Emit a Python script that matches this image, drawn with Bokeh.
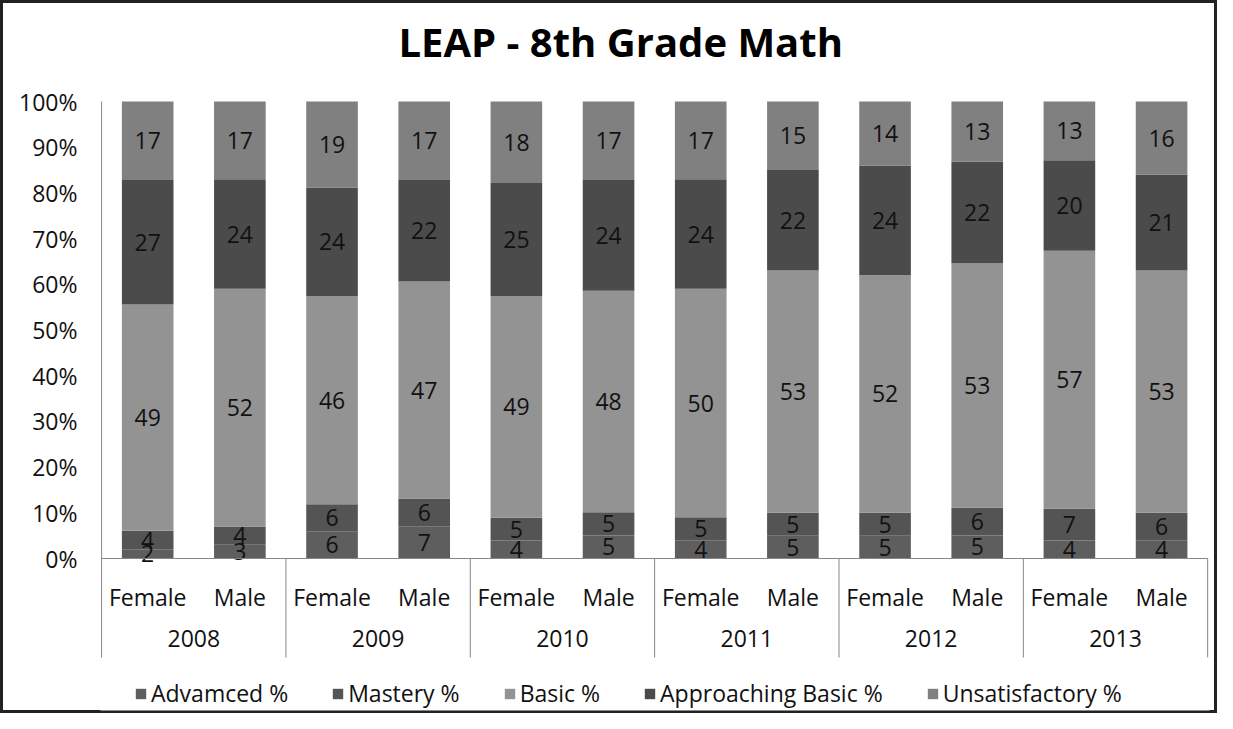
from bokeh.plotting import figure
from bokeh.models import (Range1d, FixedTicker, NumeralTickFormatter, ColumnDataSource,
                          Legend, LegendItem, Title, BoxAnnotation)
from bokeh.core.properties import value
from bokeh.embed import file_html
from bokeh.resources import INLINE

years = ["2008", "2009", "2010", "2011", "2012", "2013"]
genders = ["Female", "Male"]
series = ["Advamced %", "Mastery %", "Basic %", "Approaching Basic %", "Unsatisfactory %"]

advanced = [2, 3, 6, 7, 4, 5, 4, 5, 5, 5, 4, 4]
mastery = [4, 4, 6, 6, 5, 5, 5, 5, 5, 6, 7, 6]
basic = [49, 52, 46, 47, 49, 48, 50, 53, 52, 53, 57, 53]
approaching = [27, 24, 24, 22, 25, 24, 24, 22, 24, 22, 20, 21]
unsatisfactory = [17, 17, 19, 17, 18, 17, 17, 15, 14, 13, 13, 16]

colors = ["#5e5e5e", "#545454", "#939393", "#4b4b4b", "#808080"]
y_ticks = [0, 0.1, 0.2, 0.3, 0.4, 0.5, 0.6, 0.7, 0.8, 0.9, 1.0]

FONT = "Open Sans"
FS = "23px"
LINE = "#868686"
TXT = "#111111"

values = [advanced, mastery, basic, approaching, unsatisfactory]
keys = ["adv", "mas", "bas", "app", "uns"]
n = len(advanced)
totals = [sum(v[i] for v in values) for i in range(n)]
xs = [i + 0.5 for i in range(n)]

data = {"x": xs}
for k, v in zip(keys, values):
    data[k] = [v[i] / totals[i] for i in range(n)]
src = ColumnDataSource(data)

W, H = 1217, 713
TOP, LEFT, RIGHT, BOTTOM = 80, 100, 8, 3
PX = 457.0                                  # pixels per 100 %
sep_bottom = -99 / PX                       # bottom of category separators
y_end = 1.0 + 21 / PX                       # a little headroom above 100 %
frame_h = H - TOP - BOTTOM
frame_bottom = y_end - frame_h / PX         # frame extends down to hold the legend

p = figure(width=W, height=H, output_backend="svg", toolbar_location=None,
           x_range=Range1d(-0.012, 12.02), y_range=Range1d(frame_bottom, y_end),
           x_axis_type=None, min_border_left=LEFT, min_border_right=RIGHT,
           min_border_top=TOP, min_border_bottom=BOTTOM)
p.outline_line_color = None
p.grid.visible = False
p.border_fill_alpha = 0
p.styles = {"outline": "3px solid #222222", "outline-offset": "-3px"}

# chart border around the whole canvas
p.add_layout(BoxAnnotation(left=1.5, right=W - 1.5, top=1.5, bottom=H - 1.5,
                           left_units="canvas", right_units="canvas",
                           top_units="canvas", bottom_units="canvas",
                           fill_alpha=0, line_color="#222222", line_width=3,
                           level="overlay"))

renderers = p.vbar_stack(keys, x="x", width=0.56, color=colors, line_color=None, source=src)

# data labels
lx, ly, lt = [], [], []
for i in range(n):
    cum = 0.0
    for v in values:
        f = v[i] / totals[i]
        lx.append(xs[i])
        ly.append(cum + f / 2)
        lt.append(str(v[i]))
        cum += f
p.text(x=lx, y=ly, text=lt, text_align="center", text_baseline="middle",
       text_font=value(FONT), text_font_size=FS, text_color=TXT)

# axis lines and group separators
p.segment(x0=[0], y0=[0], x1=[n], y1=[0], line_color=LINE, line_width=1)
p.segment(x0=[0], y0=[sep_bottom], x1=[0], y1=[1.0], line_color=LINE, line_width=1)
seps = [2 * k for k in range(1, len(years) + 1)]
p.segment(x0=seps, y0=[sep_bottom] * len(seps), x1=seps, y1=[0] * len(seps),
          line_color=LINE, line_width=1)

# category labels
gt = [genders[i % 2] for i in range(n)]
p.text(x=xs, y=[-38 / PX] * n, text=gt, text_align="center", text_baseline="middle",
       text_font=value(FONT), text_font_size=FS, text_color=TXT)
yx = [2 * k + 1 for k in range(len(years))]
p.text(x=yx, y=[-80 / PX] * len(years), text=years, text_align="center", text_baseline="middle",
       text_font=value(FONT), text_font_size=FS, text_color=TXT)

# y axis
ax = p.yaxis[0]
ax.ticker = FixedTicker(ticks=y_ticks)
ax.formatter = NumeralTickFormatter(format="0%")
ax.axis_line_color = None
ax.major_tick_line_color = None
ax.minor_tick_line_color = None
ax.major_label_standoff = 17
ax.major_label_text_font = FONT
ax.major_label_text_font_size = FS
ax.major_label_text_color = TXT

# title
p.title = Title(text="LEAP - 8th Grade Math", align="left", offset=298,
                vertical_align="bottom", standoff=23,
                text_font=FONT, text_font_size="40px", text_font_style="bold",
                text_color="#000000")

legend = Legend(items=[LegendItem(label=s, renderers=[r]) for s, r in zip(series, renderers)],
                orientation="horizontal", location=(34, 1),
                label_text_font=FONT, label_text_font_size=FS, label_text_color=TXT,
                glyph_width=13, glyph_height=13, label_height=26, label_standoff=4,
                spacing=43, margin=0, padding=2, border_line_color=None,
                background_fill_alpha=0)
p.add_layout(legend)

open("out.html", "w").write(file_html(p, INLINE))
